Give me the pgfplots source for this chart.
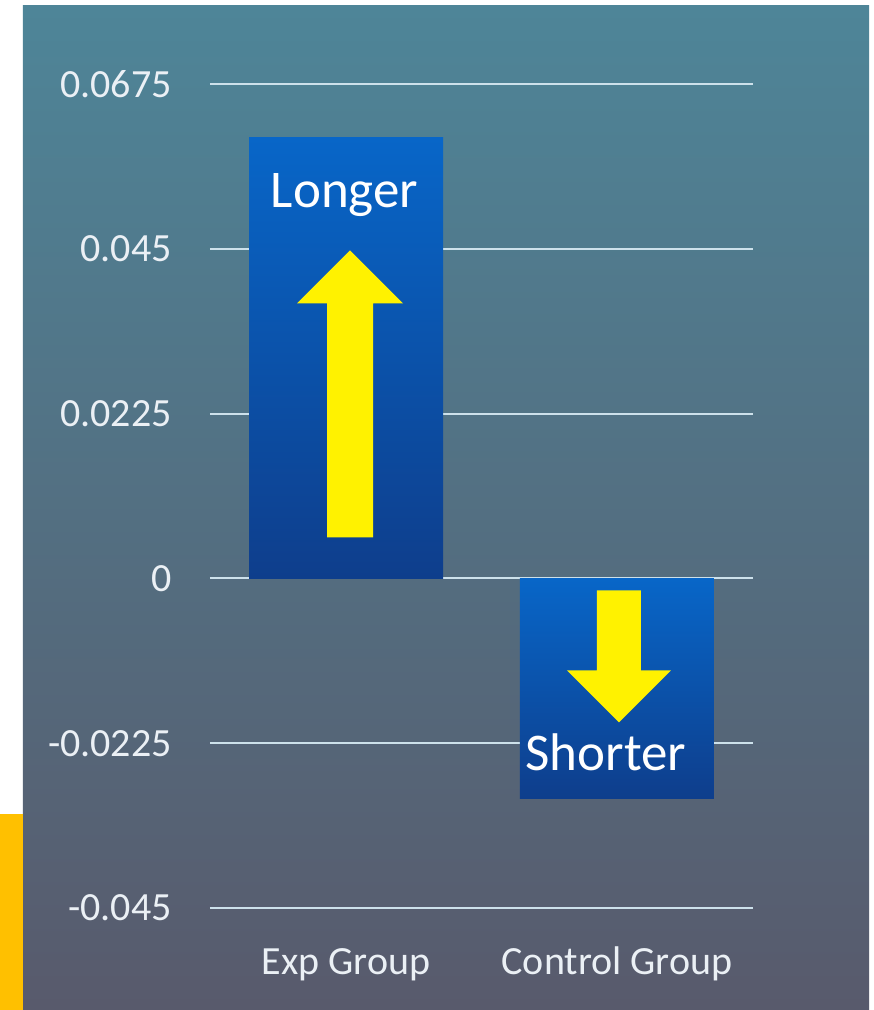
\documentclass[border=0pt]{standalone}
\usepackage{pgfplots}
\pgfplotsset{compat=1.18}
\usepackage{fontspec}
\setmainfont{Carlito}
\definecolor{bgtop}{RGB}{78,133,152}
\definecolor{bgbot}{RGB}{88,90,108}
\definecolor{bartop}{RGB}{8,102,200}
\definecolor{barbot}{RGB}{14,62,140}
\definecolor{gridc}{RGB}{205,225,235}
\definecolor{lbl}{RGB}{235,240,245}
\definecolor{orangebar}{RGB}{255,192,0}
\begin{document}
\begin{tikzpicture}
\useasboundingbox (-210pt,-102pt) rectangle (664pt,908pt);
\fill[white] (-210pt,-102pt) rectangle (664pt,908pt);
\shade[top color=bgtop, bottom color=bgbot] (-187pt,-102pt) rectangle (659pt,902pt);
\fill[orangebar] (-210pt,-102pt) rectangle (-187pt,94pt);
\begin{axis}[
  at={(0,0)}, anchor=south west,
  scale only axis, width=543pt, height=824pt,
  xmin=-0.502, xmax=1.502, ymin=-0.045, ymax=0.0675,
  scaled y ticks=false, scaled x ticks=false,
  ytick={-0.045,-0.0225,0,0.0225,0.045,0.0675},
  yticklabels={-0.045,-0.0225,0,0.0225,0.045,0.0675},
  xtick={0,1}, xticklabels={Exp Group, Control Group},
  major tick length=0pt,
  axis line style={draw=none},
  ymajorgrids, grid style={gridc, line width=2pt},
  tick label style={font=\fontsize{40}{48}\selectfont, text=lbl, inner sep=0pt},
  yticklabel style={anchor=east, xshift=-38pt},
  xticklabel style={anchor=base, yshift=-66pt},
  clip=false,
]
\addplot[ybar, bar width=194pt, bar shift=0pt, draw=none, top color=bartop, bottom color=barbot] coordinates {(0,0.0602)};
\addplot[ybar, bar width=194pt, bar shift=0pt, draw=none, top color=bartop, bottom color=barbot] coordinates {(1,-0.0300)};
% up arrow
\fill[yellow] (axis cs:-0.0701,0.0056) -- (axis cs:0.0996,0.0056) -- (axis cs:0.0996,0.03755) -- (axis cs:0.2103,0.03755) -- (axis cs:0.0148,0.04478) -- (axis cs:-0.1808,0.03755) -- (axis cs:-0.0701,0.03755) -- cycle;
% down arrow
\fill[yellow] (axis cs:0.9262,-0.00164) -- (axis cs:1.0886,-0.00164) -- (axis cs:1.0886,-0.01256) -- (axis cs:1.1993,-0.01256) -- (axis cs:1.0074,-0.01966) -- (axis cs:0.8155,-0.01256) -- (axis cs:0.9262,-0.01256) -- cycle;
\node[anchor=base, text=white, inner sep=0pt, font=\fontsize{53}{60}\selectfont] at (axis cs:-0.0055,0.0507) {Longer};
\node[anchor=base, text=white, inner sep=0pt, font=\fontsize{53}{60}\selectfont] at (axis cs:0.959,-0.0262) {Shorter};
\end{axis}
\end{tikzpicture}
\end{document}
